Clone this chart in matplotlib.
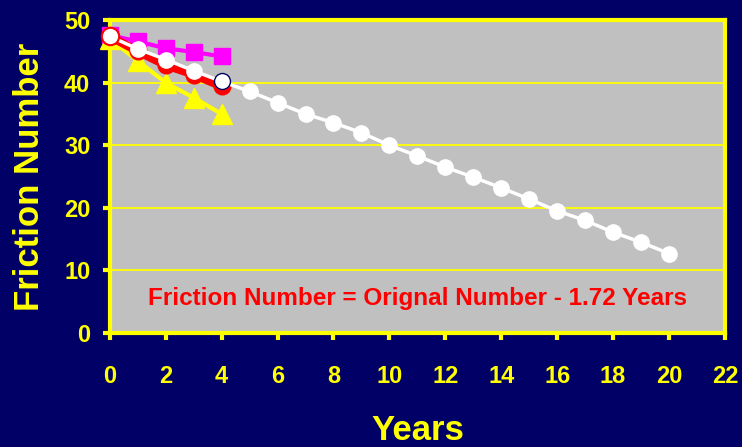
import matplotlib
matplotlib.use("Agg")
import matplotlib.pyplot as plt

plt.rcParams['font.family'] = ['Liberation Sans', 'DejaVu Sans']

years_long = list(range(0, 21))
projected = [47.4, 45.4, 43.7, 41.9, 40.2, 38.6, 36.8, 35.0, 33.6, 32.0, 30.0,
             28.3, 26.5, 24.9, 23.2, 21.4, 19.5, 18.0, 16.1, 14.5, 12.7]
years_short = [0, 1, 2, 3, 4]
magenta_vals = [47.6, 46.6, 45.5, 44.9, 44.2]
red_vals = [47.4, 45.0, 42.8, 41.3, 39.4]
yellow_vals = [47.0, 43.5, 40.0, 37.6, 35.0]
x_ticks = list(range(0, 23, 2))
y_ticks = [0, 10, 20, 30, 40, 50]
equation = "Friction Number = Orignal Number - 1.72 Years"

NAVY = "#000066"
YEL = "#FFFF00"

fig = plt.figure(figsize=(7.42, 4.47), dpi=100, facecolor=NAVY)
ax = fig.add_axes([0.148, 0.255, 0.829, 0.700])
ax.set_facecolor("#C0C0C0")

ax.set_xlim(0, 22)
ax.set_ylim(0, 50)
ax.set_xticks(x_ticks)
ax.set_yticks(y_ticks)
ax.grid(axis='y', color=YEL, linewidth=1.3, zorder=0)
ax.set_axisbelow(True)

ax.plot(years_short, magenta_vals, color="#FF00FF", linewidth=3, marker='s',
        markersize=12, zorder=3, clip_on=False)
ax.plot(years_short, yellow_vals, color=YEL, linewidth=3, marker='^',
        markersize=14, zorder=3, clip_on=False)
ax.plot(years_short, red_vals, color="#FF0000", linewidth=6, marker='o',
        markersize=12, zorder=4, clip_on=False)
ax.plot(years_long, projected, color="white", linewidth=2.5, marker='o',
        markersize=11, markeredgecolor="white", zorder=5, clip_on=False)
ax.plot(years_long[0], projected[0], marker='o', markersize=12.5, color="white",
        markeredgecolor="#FF0000", markeredgewidth=1.5, zorder=6, clip_on=False)
ax.plot(years_long[4], projected[4], marker='o', markersize=11.5, color="white",
        markeredgecolor=NAVY, markeredgewidth=1, zorder=6, clip_on=False)

for s in ax.spines.values():
    s.set_color(YEL)
    s.set_linewidth(3)
ax.tick_params(colors=YEL, width=3, length=5, labelsize=17)
ax.tick_params(axis='x', pad=18)
ax.tick_params(axis='y', pad=9)
for lab in ax.get_xticklabels() + ax.get_yticklabels():
    lab.set_fontweight('bold')
    lab.set_color(YEL)

ax.set_xlabel("Years", color=YEL, fontsize=25, fontweight='bold', va='center')
ax.xaxis.set_label_coords(0.5, -0.31)
ax.set_ylabel("Friction Number", color=YEL, fontsize=25, fontweight='bold', va='center')
ax.yaxis.set_label_coords(-0.13, 0.5)

ax.text(0.5, 0.11, equation, transform=ax.transAxes, color="#FF0000",
        fontsize=17.5, fontweight='bold', ha='center', va='center')

fig.savefig("out.png", dpi=100, facecolor=NAVY)
